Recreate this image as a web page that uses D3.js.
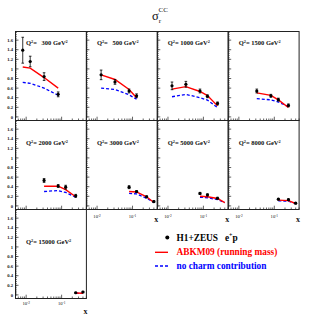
<!DOCTYPE html>
<html><head><meta charset="utf-8">
<script src="https://cdn.jsdelivr.net/npm/d3@7"></script>
<style>body{margin:0;background:#fff} svg{display:block}</style>
</head><body><svg id="c" width="315" height="315"></svg>
<script>
// ---- data ----
const q2Values = ["300", "500", "1000", "1500", "2000", "3000", "5000", "8000", "15000"];
const dataX = [
  [0.008, 0.013, 0.032, 0.08],
  [0.013, 0.032, 0.08, 0.13],
  [0.013, 0.032, 0.08, 0.13, 0.25],
  [0.032, 0.08, 0.13, 0.25],
  [0.032, 0.08, 0.13, 0.25],
  [0.08, 0.13, 0.25, 0.4],
  [0.08, 0.13, 0.25],
  [0.13, 0.25, 0.4],
  [0.25, 0.4]
];
const dataY = [
  [1.39, 1.155, 0.84, 0.47],
  [0.876, 0.73, 0.54, 0.44],
  [0.647, 0.68, 0.54, 0.43, 0.28],
  [0.54, 0.44, 0.36, 0.24],
  [0.53, 0.415, 0.39, 0.21],
  [0.39, 0.30, 0.19, 0.09],
  [0.26, 0.23, 0.16],
  [0.14, 0.13, 0.056],
  [0.045, 0.06]
];
const dataErr = [
  [0.27, 0.11, 0.08, 0.05],
  [0.10, 0.05, 0.04, 0.04],
  [0.08, 0.06, 0.04, 0.03, 0.03],
  [0.04, 0.03, 0.03, 0.03],
  [0.04, 0.03, 0.04, 0.03],
  [0.03, 0.02, 0.02, 0.02],
  [0.02, 0.02, 0.02],
  [0.015, 0.015, 0.015],
  [0.01, 0.015]
];
const theoryX = [
  [0.008, 0.013, 0.032, 0.08],
  [0.013, 0.032, 0.08, 0.13],
  [0.013, 0.032, 0.08, 0.13, 0.25],
  [0.032, 0.08, 0.13, 0.25],
  [0.032, 0.08, 0.13, 0.25],
  [0.08, 0.13, 0.25, 0.4],
  [0.08, 0.13, 0.25, 0.4],
  [0.13, 0.25, 0.4],
  [0.25, 0.4]
];
const abkmY = [
  [1.04, 1.016, 0.82, 0.60],
  [0.876, 0.78, 0.57, 0.40],
  [0.58, 0.63, 0.53, 0.445, 0.23],
  [0.50, 0.45, 0.355, 0.195],
  [0.41, 0.41, 0.34, 0.19],
  [0.30, 0.29, 0.19, 0.07],
  [0.20, 0.19, 0.155, 0.07],
  [0.12, 0.11, 0.05],
  [0.04, 0.035]
];
const noCharmY = [
  [0.72, 0.70, 0.60, 0.45],
  [0.60, 0.57, 0.46, 0.37],
  [0.42, 0.47, 0.40, 0.35, 0.195],
  [0.38, 0.355, 0.31, 0.215],
  [0.30, 0.32, 0.28, 0.18],
  [0.26, 0.25, 0.16, 0.07],
  [0.18, 0.17, 0.13, 0.07],
  [0.105, 0.10, 0.05],
  [0.035, 0.03]
];
const yTickValues = [0, 0.2, 0.4, 0.6, 0.8, 1, 1.2, 1.4, 1.6];
const yTickLabels = ["0", "0.2", "0.4", "0.6", "0.8", "1", "1.2", "1.4", "1.6"];
const xMajorTicks = [0.01, 0.1];
const xMajorExp = ["-2", "-1"];
const legendLabels = ["H1+ZEUS", "ABKM09 (running mass)", "no charm contribution"];

// ---- layout ----
const svg = d3.select("#c");
const L = 15.5, colW = 70.9, T = 31.5, rowH = 89;
const SERIF = "'Liberation Serif','Times New Roman',serif";
const RED = "#ff0000", BLUE = "#0000ff";
const labelOff = [13.8, 24.5, 34.5];     // label baseline offset per row
const tickLabOff = [0, 8.8, 6.8];        // x tick label baseline offset per row
const xLabOff = [0, 12.5, 15.5];

const xDomain = [0.005, 0.5], yDomain = [-0.075, 1.78];

function drawPanel(i) {
  const row = Math.floor(i / 4), col = i % 4;
  const x0 = L + col * colW, y0 = T + row * rowH;
  const x = d3.scaleLog().domain(xDomain).range([x0, x0 + colW]);
  const y = d3.scaleLinear().domain(yDomain).range([y0 + rowH, y0]);
  const g = svg.append("g");

  // frame
  g.append("rect").attr("x", x0).attr("y", y0).attr("width", colW).attr("height", rowH)
    .attr("fill", "none").attr("stroke", "#222").attr("stroke-width", 1);

  // y ticks
  const yMinor = d3.range(0, 1.77, 0.04);
  g.selectAll(".ym").data(yMinor).join("line")
    .attr("x1", x0).attr("x2", x0 + 1.5).attr("y1", d => y(d)).attr("y2", d => y(d))
    .attr("stroke", "#222").attr("stroke-width", 0.6);
  g.selectAll(".yM").data(yTickValues).join("line")
    .attr("x1", x0).attr("x2", x0 + 3).attr("y1", d => y(d)).attr("y2", d => y(d))
    .attr("stroke", "#222").attr("stroke-width", 0.7);

  // x ticks
  const xMinor = [0.006, 0.007, 0.008, 0.009, 0.02, 0.03, 0.04, 0.05, 0.06, 0.07, 0.08, 0.09, 0.2, 0.3, 0.4, 0.5];
  const yb = y0 + rowH;
  g.selectAll(".xm").data(xMinor).join("line")
    .attr("x1", d => x(d)).attr("x2", d => x(d)).attr("y1", yb).attr("y2", yb - 2)
    .attr("stroke", "#222").attr("stroke-width", 0.7);
  g.selectAll(".xM").data(xMajorTicks).join("line")
    .attr("x1", d => x(d)).attr("x2", d => x(d)).attr("y1", yb).attr("y2", yb - 3.8)
    .attr("stroke", "#222").attr("stroke-width", 0.7);

  // y tick labels (first column)
  if (col === 0) {
    g.selectAll(".yl").data(yTickValues).join("text")
      .attr("x", x0 - 2.5).attr("y", d => y(d) + 1.6)
      .attr("text-anchor", "end").attr("font-family", SERIF).attr("font-weight", "bold")
      .attr("font-size", 4.6).attr("fill", "#111")
      .text((d, k) => yTickLabels[k]);
  }
  // x tick labels for bottom panels
  const isBottom = (i >= 5) || i === 8;
  if (isBottom) {
    const ty = yb + tickLabOff[row];
    xMajorTicks.forEach((v, k) => {
      const t = g.append("text").attr("x", x(v)).attr("y", ty).attr("text-anchor", "middle")
        .attr("font-family", SERIF).attr("font-size", 4.6).attr("fill", "#111");
      t.append("tspan").text("10");
      t.append("tspan").attr("font-size", 3.4).attr("dy", -1.8).text(xMajorExp[k]);
    });
    g.append("text").attr("x", x0 + colW + 1).attr("y", yb + xLabOff[row]).attr("text-anchor", "end")
      .attr("font-family", SERIF).attr("font-weight", "bold").attr("font-size", 8).attr("fill", "#111")
      .text("x");
  }

  // label
  const lab = g.append("text").attr("x", x0 + 10.5).attr("y", y0 + labelOff[row])
    .attr("font-family", SERIF).attr("font-weight", "bold").attr("font-size", 6.5).attr("fill", "#111")
    .attr("xml:space", "preserve").style("white-space", "pre");
  lab.append("tspan").text("Q");
  lab.append("tspan").attr("font-size", 4.3).attr("dy", -2.4).text("2");
  lab.append("tspan").attr("dy", 2.4).text("= ");
  lab.append("tspan").attr("dx", q2Values[i].length === 3 ? 3 : 0).text(q2Values[i] + " GeV");
  lab.append("tspan").attr("font-size", 4.3).attr("dy", -2.4).text("2");

  // theory lines
  const line = d3.line().x(d => x(d[0])).y(d => y(d[1]));
  const blue = theoryX[i].map((v, k) => [v, noCharmY[i][k]]);
  const red = theoryX[i].map((v, k) => [v, abkmY[i][k]]);
  g.append("path").attr("d", line(blue)).attr("fill", "none").attr("stroke", BLUE)
    .attr("stroke-width", 1.3).attr("stroke-dasharray", "3,2");
  g.append("path").attr("d", line(red)).attr("fill", "none").attr("stroke", RED)
    .attr("stroke-width", 1.4);

  // data points
  const pts = dataX[i].map((v, k) => ({ x: v, y: dataY[i][k], e: dataErr[i][k] }));
  const pg = g.selectAll(".pt").data(pts).join("g");
  pg.append("line").attr("x1", d => x(d.x)).attr("x2", d => x(d.x))
    .attr("y1", d => y(d.y - d.e)).attr("y2", d => y(d.y + d.e)).attr("stroke", "#000").attr("stroke-width", 0.8);
  pg.append("line").attr("x1", d => x(d.x) - 1.3).attr("x2", d => x(d.x) + 1.3)
    .attr("y1", d => y(d.y - d.e)).attr("y2", d => y(d.y - d.e)).attr("stroke", "#000").attr("stroke-width", 0.8);
  pg.append("line").attr("x1", d => x(d.x) - 1.3).attr("x2", d => x(d.x) + 1.3)
    .attr("y1", d => y(d.y + d.e)).attr("y2", d => y(d.y + d.e)).attr("stroke", "#000").attr("stroke-width", 0.8);
  pg.append("circle").attr("cx", d => x(d.x)).attr("cy", d => y(d.y)).attr("r", 1.6).attr("fill", "#000");
}

for (let i = 0; i < q2Values.length; i++) drawPanel(i);

// title
const title = svg.append("text").attr("x", 152).attr("y", 20).attr("font-family", SERIF)
  .attr("font-size", 12.5).attr("fill", "#111");
title.append("tspan").text("\u03c3");
title.append("tspan").attr("font-size", 7).attr("dy", 2.5).text("r");
title.append("tspan").attr("font-size", 7).attr("dx", -2.5).attr("dy", -11).text("CC");

// legend
const lg = svg.append("g");
lg.append("circle").attr("cx", 167.3).attr("cy", 237.5).attr("r", 2).attr("fill", "#000");
const t1 = lg.append("text").attr("x", 176.5).attr("y", 240.5).attr("font-family", SERIF)
  .attr("font-weight", "bold").attr("font-size", 9.3).attr("fill", "#000")
  .attr("xml:space", "preserve").style("white-space", "pre");
t1.append("tspan").text(legendLabels[0] + "   e");
t1.append("tspan").attr("font-size", 6).attr("dy", -3.5).text("+");
t1.append("tspan").attr("dy", 3.5).text("p");
lg.append("line").attr("x1", 155).attr("x2", 168).attr("y1", 252.3).attr("y2", 252.3)
  .attr("stroke", RED).attr("stroke-width", 1.4);
lg.append("text").attr("x", 176.5).attr("y", 255.3).attr("font-family", SERIF)
  .attr("font-weight", "bold").attr("font-size", 9.3).attr("fill", RED).text(legendLabels[1]);
lg.append("line").attr("x1", 155).attr("x2", 168).attr("y1", 266).attr("y2", 266)
  .attr("stroke", BLUE).attr("stroke-width", 1.3).attr("stroke-dasharray", "3,2");
lg.append("text").attr("x", 176.5).attr("y", 269).attr("font-family", SERIF)
  .attr("font-weight", "bold").attr("font-size", 9.3).attr("fill", BLUE).text(legendLabels[2]);
</script></body></html>
